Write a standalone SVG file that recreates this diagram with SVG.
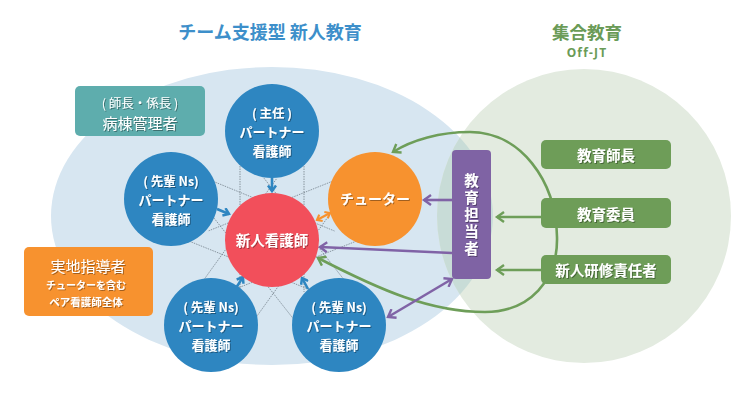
<svg xmlns="http://www.w3.org/2000/svg" width="750" height="400" viewBox="0 0 750 400">
<style>
text{font-family:"Noto Sans CJK JP","Noto Sans",sans-serif;text-anchor:middle;dominant-baseline:central}
.w{fill:#fff;font-weight:bold;filter:url(#ts)}
.wn{fill:#fff;font-weight:normal;filter:url(#ts)}
.mesh line{stroke:#75828c;stroke-width:0.8;stroke-dasharray:1.5 1}
.cb{fill:#2e86c1}
.lb{stroke:#2e86c1;stroke-width:2.6;fill:none}
.lp{stroke:#8063a6;stroke-width:2.6;fill:none}
.lg{stroke:#6e9e59;stroke-width:2.6;fill:none}
.lo{stroke:#f7922f;stroke-width:2.4;fill:none}
.s1{font-size:12.5px}.s2{font-size:13px}.s3{font-size:13px}
.vert{writing-mode:vertical-rl;letter-spacing:2.5px}
</style>
<defs>
<filter id="ts" x="-20%" y="-30%" width="140%" height="160%">
<feDropShadow dx="1" dy="1" stdDeviation="0.5" flood-color="#000" flood-opacity="0.35"/>
</filter>
<clipPath id="ellClip"><ellipse cx="272" cy="216" rx="221" ry="149"/></clipPath>
<marker id="aB" viewBox="0 0 10 10" refX="7" refY="5" markerWidth="10" markerHeight="10" markerUnits="userSpaceOnUse" orient="auto-start-reverse"><path d="M1.5,1 L7,5 L1.5,9" fill="none" stroke="#2e86c1" stroke-width="2.5"/></marker>
<marker id="aO" viewBox="0 0 10 10" refX="7" refY="5" markerWidth="9" markerHeight="9" markerUnits="userSpaceOnUse" orient="auto-start-reverse"><path d="M2,1 L7,5 L2,9" fill="none" stroke="#f7922f" stroke-width="2.4"/></marker>
<marker id="aP" viewBox="0 0 12 12" refX="9" refY="6" markerWidth="12" markerHeight="12" markerUnits="userSpaceOnUse" orient="auto-start-reverse"><path d="M2,1 L9,6 L2,11" fill="none" stroke="#8063a6" stroke-width="2.4"/></marker>
<marker id="aG" viewBox="0 0 12 12" refX="9" refY="6" markerWidth="12" markerHeight="12" markerUnits="userSpaceOnUse" orient="auto-start-reverse"><path d="M2,1 L9,6 L2,11" fill="none" stroke="#6e9e59" stroke-width="2.4"/></marker>
</defs>

<rect width="750" height="400" fill="#fff"/>
<g id="background">
<ellipse cx="272" cy="216" rx="221" ry="149" fill="#d7e6f1"/>
<circle cx="584" cy="216" r="147" fill="#e3ebe0"/>
<circle cx="584" cy="216" r="147" fill="#c8dcd7" clip-path="url(#ellClip)"/>
</g>

<g id="titles">
<text x="270" y="31" font-size="18" font-weight="bold" fill="#3d8fca">チーム支援型 新人教育</text>
<text x="587" y="31" font-size="17.5" font-weight="bold" fill="#6a9b57">集合教育</text>
<text x="587" y="52" font-size="12" font-weight="bold" fill="#6a9b57" letter-spacing="1.2" style="font-family:'Noto Sans','DejaVu Sans',sans-serif">Off-JT</text>
</g>

<g class="mesh" id="mesh">
<line x1="240" y1="131" x2="240" y2="292"/>
<line x1="304" y1="131" x2="304" y2="292"/>
<line x1="159" y1="229" x2="310.5" y2="290"/>
<line x1="183" y1="169" x2="334.5" y2="231"/>
<line x1="363" y1="169" x2="208.7" y2="230.8"/>
<line x1="387" y1="229" x2="232.3" y2="290.2"/>
<line x1="237" y1="344" x2="328.5" y2="216.2"/>
<line x1="185" y1="306" x2="276.5" y2="178.8"/>
<line x1="364" y1="305" x2="263.6" y2="177.7"/>
<line x1="314" y1="345" x2="213.4" y2="217.3"/>
</g>

<g id="connectors">
<path class="lg" d="M318,258 C380,290 430,312 485,312 C530,312 558,280 557,237 C556,180 520,132 470,132 C440,132 412,140 393,152" marker-start="url(#aG)" marker-end="url(#aG)"/>
<line class="lb" x1="272" y1="178" x2="272" y2="191" marker-end="url(#aB)"/>
<line class="lb" x1="217" y1="209" x2="229" y2="214" marker-end="url(#aB)"/>
<line class="lb" x1="236" y1="288" x2="243" y2="277" marker-end="url(#aB)"/>
<line class="lb" x1="308" y1="289" x2="302" y2="278" marker-end="url(#aB)"/>
<line class="lo" x1="317" y1="220" x2="330" y2="213" marker-start="url(#aO)" marker-end="url(#aO)"/>
<line class="lp" x1="452" y1="200" x2="424" y2="200" marker-end="url(#aP)"/>
<line class="lp" x1="452" y1="253" x2="320" y2="247" marker-end="url(#aP)"/>
<line class="lp" x1="388" y1="317" x2="452" y2="279" marker-start="url(#aP)" marker-end="url(#aP)"/>
<line class="lg" x1="541" y1="217" x2="497" y2="217" marker-end="url(#aG)"/>
<line class="lg" x1="541" y1="270" x2="497" y2="270" marker-end="url(#aG)"/>
</g>

<g id="ward-manager">
<rect x="75" y="86" width="130" height="50" rx="5" fill="#5eadad"/>
<text class="wn"><tspan x="140" y="101.5" font-size="12.5">( 師長・係長 )</tspan><tspan x="140" y="121.5" font-size="15">病棟管理者</tspan></text>
</g>

<g id="field-instructor">
<rect x="24" y="247" width="129" height="69" rx="5" fill="#f7922f"/>
<text class="wn"><tspan x="88" y="265" font-size="15">実地指導者</tspan><tspan x="86" y="284" font-size="10" font-weight="bold">チューターを含む</tspan><tspan x="86" y="301" font-size="10.5" font-weight="bold">ペア看護師全体</tspan></text>
</g>

<g id="partner-chief">
<circle class="cb" cx="272" cy="131" r="47"/>
<text class="w"><tspan class="s1" x="272" y="112">( 主任 )</tspan><tspan class="s2" x="272" y="131">パートナー</tspan><tspan class="s3" x="272" y="150">看護師</tspan></text>
</g>

<g id="partner-left">
<circle class="cb" cx="171" cy="199" r="47"/>
<text class="w"><tspan class="s1" x="171" y="180">( 先輩 Ns)</tspan><tspan class="s2" x="171" y="199">パートナー</tspan><tspan class="s3" x="171" y="218">看護師</tspan></text>
</g>

<g id="partner-bottom-left">
<circle class="cb" cx="211" cy="325" r="47"/>
<text class="w"><tspan class="s1" x="211" y="306">( 先輩 Ns)</tspan><tspan class="s2" x="211" y="325">パートナー</tspan><tspan class="s3" x="211" y="344">看護師</tspan></text>
</g>

<g id="partner-bottom-right">
<circle class="cb" cx="339" cy="325" r="47"/>
<text class="w"><tspan class="s1" x="339" y="306">( 先輩 Ns)</tspan><tspan class="s2" x="339" y="325">パートナー</tspan><tspan class="s3" x="339" y="344">看護師</tspan></text>
</g>

<g id="new-nurse">
<circle cx="272" cy="240" r="47" fill="#f24f5b"/>
<text class="w" x="272" y="239" font-size="14.5">新人看護師</text>
</g>

<g id="tutor">
<circle cx="375" cy="199" r="47" fill="#f7922f"/>
<text class="w" x="375" y="198" font-size="14">チューター</text>
</g>

<g id="education-officer">
<rect x="452" y="150" width="39" height="129" rx="4" fill="#7f63a4"/>
<text class="w vert" x="471.5" y="216" font-size="14.5">教育担当者</text>
</g>

<g id="education-head">
<rect x="541" y="140" width="130" height="29" rx="5" fill="#6e9d58"/>
<text class="w" x="606" y="154.5" font-size="14.5">教育師長</text>
</g>

<g id="education-committee">
<rect x="541" y="198" width="130" height="30" rx="5" fill="#6e9d58"/>
<text class="w" x="606" y="213" font-size="14.5">教育委員</text>
</g>

<g id="training-manager">
<rect x="541" y="255" width="130" height="29" rx="5" fill="#6e9d58"/>
<text class="w" x="606" y="269.5" font-size="14.5">新人研修責任者</text>
</g>
</svg>
